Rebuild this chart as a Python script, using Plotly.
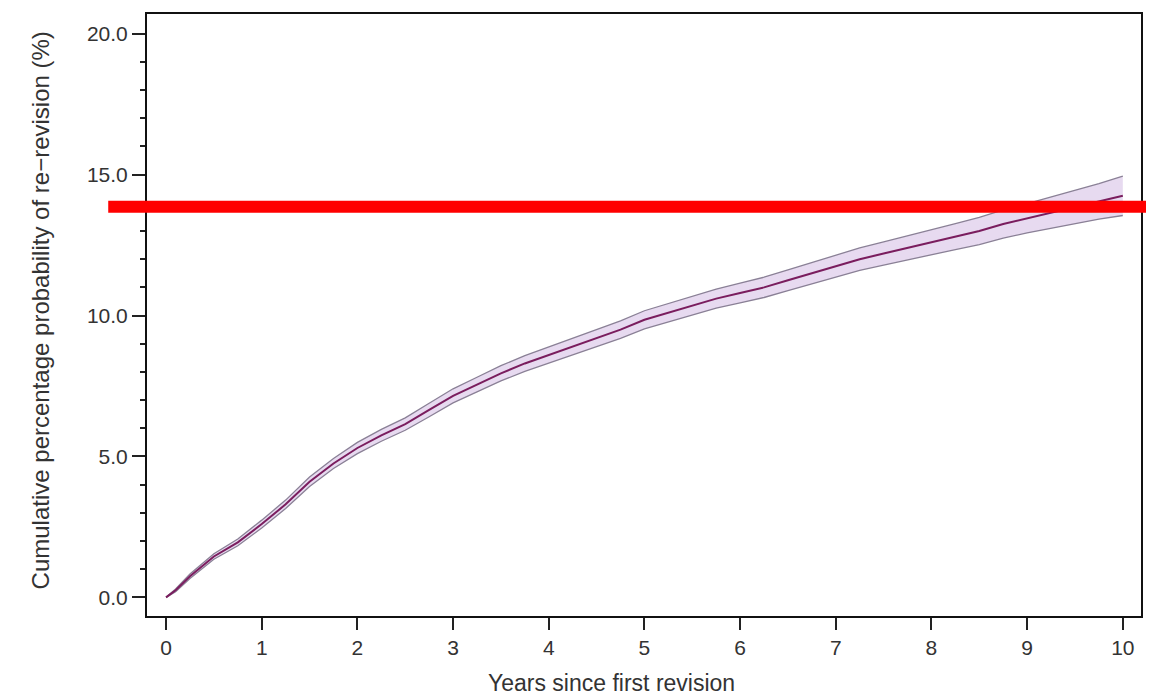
import plotly.graph_objects as go

# Data
years = [0, 0.1, 0.25, 0.5, 0.75, 1.0, 1.25, 1.5, 1.75, 2.0,
         2.25, 2.5, 2.75, 3.0, 3.25, 3.5, 3.75, 4.0,
         4.25, 4.5, 4.75, 5.0, 5.25, 5.5, 5.75, 6.0,
         6.25, 6.5, 6.75, 7.0, 7.25, 7.5, 7.75, 8.0,
         8.25, 8.5, 8.75, 9.0, 9.25, 9.5, 9.75, 10.0]
cum_prob = [0, 0.25, 0.75, 1.45, 1.95, 2.6, 3.3, 4.1, 4.75, 5.3,
            5.75, 6.15, 6.65, 7.15, 7.55, 7.95, 8.3, 8.6,
            8.9, 9.2, 9.5, 9.85, 10.1, 10.35, 10.6, 10.8,
            11.0, 11.25, 11.5, 11.75, 12.0, 12.2, 12.4, 12.6,
            12.8, 13.0, 13.25, 13.45, 13.65, 13.85, 14.05, 14.25]
ci_upper = [0, 0.3, 0.83, 1.55, 2.07, 2.74, 3.45, 4.27, 4.93, 5.5,
            5.96, 6.37, 6.89, 7.4, 7.81, 8.22, 8.58, 8.89,
            9.2, 9.5, 9.81, 10.17, 10.43, 10.68, 10.94, 11.15,
            11.36, 11.62, 11.88, 12.14, 12.4, 12.61, 12.82, 13.04,
            13.26, 13.48, 13.75, 13.97, 14.2, 14.43, 14.68, 14.95]
ci_lower = [0, 0.2, 0.67, 1.35, 1.83, 2.46, 3.15, 3.93, 4.57, 5.1,
            5.54, 5.93, 6.41, 6.9, 7.29, 7.68, 8.02, 8.31,
            8.6, 8.9, 9.19, 9.53, 9.77, 10.02, 10.26, 10.45,
            10.64, 10.88, 11.12, 11.36, 11.6, 11.79, 11.98, 12.16,
            12.34, 12.52, 12.75, 12.93, 13.1, 13.27, 13.42, 13.55]
x_ticks = [0, 1, 2, 3, 4, 5, 6, 7, 8, 9, 10]
y_ticks = [0, 5, 10, 15, 20]
ref_line = 13.86

x_range = [-0.199, 10.19]
y_range = [-0.662, 20.70]

FONT = "Liberation Sans, Arial, Helvetica, sans-serif"

fig = go.Figure()
fig.add_trace(go.Scatter(x=years, y=ci_lower, mode="lines",
                         line=dict(color="#8a8096", width=1.3),
                         showlegend=False, hoverinfo="skip"))
fig.add_trace(go.Scatter(x=years, y=ci_upper, mode="lines", fill="tonexty",
                         fillcolor="rgba(228,214,238,0.9)",
                         line=dict(color="#8a8096", width=1.3),
                         showlegend=False, hoverinfo="skip"))
fig.add_trace(go.Scatter(x=years, y=cum_prob, mode="lines",
                         line=dict(color="#7a1d5e", width=2),
                         showlegend=False))

ref_paper_y = (ref_line - y_range[0]) / (y_range[1] - y_range[0])
fig.add_shape(type="line", xref="paper", yref="paper",
              x0=-0.039, x1=1.0106, y0=ref_paper_y, y1=ref_paper_y,
              line=dict(color="#ff0000", width=12), layer="above")

fig.update_xaxes(range=x_range, tickvals=x_ticks, ticktext=[str(v) for v in x_ticks],
                 showline=True, linecolor="#111", linewidth=2, mirror=True,
                 ticks="outside", ticklen=12, tickwidth=2, tickcolor="#222",
                 showgrid=False, zeroline=False,
                 tickfont=dict(family=FONT, size=21, color="#333"))
fig.update_yaxes(range=y_range, tickvals=y_ticks, tickformat=".1f",
                 showline=True, linecolor="#111", linewidth=2, mirror=True,
                 ticks="outside", ticklen=13, tickwidth=2, tickcolor="#222",
                 minor=dict(dtick=1, ticks="outside", ticklen=5, tickwidth=1.5,
                            tickcolor="#222", showgrid=False),
                 showgrid=False, zeroline=False,
                 tickfont=dict(family=FONT, size=21, color="#333"))

fig.add_annotation(text="Cumulative percentage probability of re\u2212revision (%)",
                   xref="paper", yref="paper", x=-0.107, y=0.507,
                   textangle=-90, showarrow=False, xanchor="center", yanchor="middle",
                   font=dict(family=FONT, size=24, color="#333"))
fig.add_annotation(text="Years since first revision",
                   xref="paper", yref="paper", x=0.467, y=-0.111,
                   showarrow=False, xanchor="center", yanchor="middle",
                   font=dict(family=FONT, size=23, color="#333"))

fig.update_layout(width=1146, height=687,
                  margin=dict(l=139, r=13, t=4, b=79),
                  paper_bgcolor="white", plot_bgcolor="white")

fig.write_html("out.html")
